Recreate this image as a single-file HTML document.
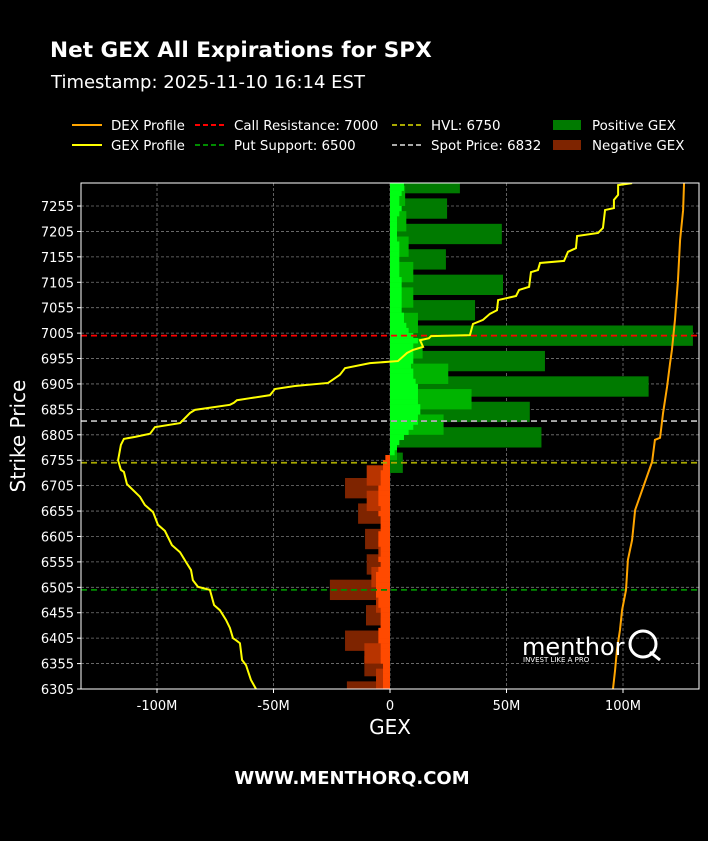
<!DOCTYPE html>
<html><head><meta charset="utf-8"><style>
body{margin:0;background:#000;width:708px;height:841px;overflow:hidden;font-family:"DejaVu Sans","Liberation Sans",sans-serif;color:#fff}
svg{position:absolute;left:0;top:0}
</style></head><body>
<svg id="c" width="708" height="841" xmlns="http://www.w3.org/2000/svg" font-family="DejaVu Sans, Liberation Sans, sans-serif">
<text x="50" y="57" font-size="21.6" font-weight="bold" fill="#fff">Net GEX All Expirations for SPX</text>
<text x="51" y="88" font-size="18" fill="#fff">Timestamp: 2025-11-10 16:14 EST</text>
<text x="352" y="784" font-size="18" font-weight="bold" fill="#fff" text-anchor="middle">WWW.MENTHORQ.COM</text>
<text x="390" y="734" font-size="20" fill="#fff" text-anchor="middle">GEX</text>
<text transform="translate(25,436) rotate(-90)" font-size="20" fill="#fff" text-anchor="middle">Strike Price</text>
<g id="legend" font-size="13.4" fill="#fff"></g>
<g id="plot"></g>
</svg>
<script>
const yTicks=[7255,7205,7155,7105,7055,7005,6955,6905,6855,6805,6755,6705,6655,6605,6555,6505,6455,6405,6355,6305];
const xTicks=[-100,-50,0,50,100];
const xTickLabels=["-100M","-50M","0","50M","100M"];
const darkStrikes=[7300,7250,7200,7150,7100,7050,7000,6950,6900,6850,6800,6750,6700,6650,6600,6550,6500,6450,6400,6350,6300];
const darkValues=[30,24.5,48,24,48.5,36.5,130,66.5,111,60,65,5.5,-19.3,-13.7,-10.7,-10,-25.8,-10.3,-19.3,-11,-18.5];
const midStrikes=[7275,7225,7175,7125,7075,7025,6975,6925,6875,6825,6775,6725,6675,6625,6575,6525,6475,6425,6375,6325];
const midValues=[6.5,7,8,10,10,12,14,25,35,23,3,-10,-10,-4,-5,-8,-6,-4,-11,-6];
const brightStrikes=[7300,7290,7280,7270,7260,7250,7240,7230,7220,7210,7200,7190,7180,7170,7160,7150,7140,7130,7120,7110,7100,7090,7080,7070,7060,7050,7040,7030,7020,7010,7000,6990,6980,6970,6960,6950,6940,6930,6920,6910,6900,6890,6880,6870,6860,6850,6840,6830,6820,6810,6800,6790,6780,6770,6760,6750,6740,6730,6720,6710,6700,6690,6680,6670,6660,6650,6640,6630,6620,6610,6600,6590,6580,6570,6560,6550,6540,6530,6520,6510,6500,6490,6480,6470,6460,6450,6440,6430,6420,6410,6400,6390,6380,6370,6360,6350,6340,6330,6320,6310];
const brightValues=[6,6,5,4,4,5,4,3,3,3,3,3,4,4,4,4,4,4,4,5,5,5,5,5,5,5,6,6,7,8,10,12,10,10,10,10,9,10,10,11,12,12,12,12,13,13,12,12,10,8,6,4,3,2,-2,-3,-3,-4,-4,-4,-5,-5,-5,-5,-4,-5,-4,-4,-4,-5,-5,-5,-4,-4,-5,-4,-5,-6,-6,-6,-6,-6,-5,-5,-4,-4,-4,-4,-5,-5,-5,-4,-4,-4,-4,-3,-3,-3,-3,-3];
const gexStrikes=[7300,7296,7277,7267,7251,7247,7212,7202,7196,7172,7165,7147,7143,7129,7125,7096,7090,7078,7070,7050,7043,7031,7023,7001,6999,6995,6991,6978,6972,6966,6950,6946,6936,6923,6907,6901,6895,6883,6877,6873,6868,6864,6854,6848,6828,6820,6807,6801,6797,6785,6755,6736,6732,6708,6683,6667,6653,6628,6616,6588,6574,6555,6539,6519,6506,6500,6470,6460,6441,6425,6405,6401,6395,6362,6352,6323,6305];
const gexValues=[103.9,97.9,97.9,96.1,96.1,92.3,91.4,89.3,80.3,79.8,76.4,74.7,64.4,63.5,60.5,59.7,55.4,54.1,46.4,45.9,42.9,39.9,35.6,34.3,17.6,16.7,12.9,14.2,9.9,7.3,3.4,-8.6,-19.3,-21.5,-26.6,-40.8,-49.4,-51.5,-60.1,-65.7,-67,-68.7,-83.7,-85.8,-90.1,-100.9,-103,-109.4,-114.2,-115.5,-116.7,-115.5,-114.2,-112.9,-107.3,-105.2,-101.7,-99.6,-96.6,-93.6,-90.1,-87.6,-85.4,-84.6,-82.4,-77.3,-75.5,-73,-70.4,-68.7,-67.4,-66.1,-64.4,-63.5,-61.8,-59.7,-57.5];
const dexStrikes=[7300,7247,7188,7110,7031,6972,6946,6899,6848,6799,6795,6752,6696,6657,6598,6559,6500,6460,6421,6382,6342,6305];
const dexValues=[126.2,125.8,124.5,123.6,122.3,121,120.2,118.9,117.2,115.9,113.7,112.5,108.2,105.2,103.9,102.1,101.3,99.6,98.7,97.4,96.6,95.7];
const levelNames=["call-resistance-line","put-support-line","hvl-line","spot-price-line"];
const levelValues=[7000,6500,6750,6832];

const L=81,R=699,T=183,B=689;
const X=v=>390+v*2.33;
const Y=s=>B-(s-6305)*0.5084;
const NS="http://www.w3.org/2000/svg";
const plot=document.getElementById('plot');
function mk(tag,attrs,parent){const e=document.createElementNS(NS,tag);for(const k in attrs)e.setAttribute(k,attrs[k]);(parent||plot).appendChild(e);return e;}
const clip=mk('clipPath',{id:'pc'});mk('rect',{x:L,y:T,width:R-L,height:B-T},clip);
yTicks.forEach((t,i)=>{const y=Y(t);
 const g=mk('line',{x1:L,x2:R,y1:y,y2:y,stroke:'#777','stroke-width':0.8,'stroke-dasharray':'3,2'});
 
 
 mk('line',{x1:L-4,x2:L,y1:y,y2:y,stroke:'#fff'});
 const tx=mk('text',{x:L-7,y:y+5,'text-anchor':'end','font-size':13,fill:'#fff'});tx.textContent=t;
 
 
});
xTicks.forEach((t,i)=>{const x=X(t);
 const g=mk('line',{x1:x,x2:x,y1:T,y2:B,stroke:'#777','stroke-width':0.8,'stroke-dasharray':'3,2'});
 
 
 mk('line',{x1:x,x2:x,y1:B,y2:B+4,stroke:'#fff'});
 const tx=mk('text',{x:x,y:B+21,'text-anchor':'middle','font-size':13,fill:'#fff'});tx.textContent=xTickLabels[i];
 
 
});
const bars=mk('g',{'clip-path':'url(#pc)'});
function drawBars(strikes,vals,h,pos,neg,name){strikes.forEach((s,i)=>{const v=vals[i];const x0=X(0),x1=X(v);
 const r=mk('rect',{x:Math.min(x0,x1),y:Y(s+h/2),width:Math.abs(x1-x0),height:h*0.5084,fill:v>=0?pos:neg},bars);
 
 });}
drawBars(darkStrikes,darkValues,40,'#007a00','#7e2400','gex-bar');
drawBars(midStrikes,midValues,40,'#00b400','#b83400','gex-bar-mid');
drawBars(brightStrikes,brightValues,10.5,'#00ff14','#ff4a00','gex-bar-near');
const lvlColors=['#ff0000','#008c00','#a8a800','#aaaaaa'];
levelValues.forEach((v,i)=>{const l=mk('line',{x1:L,x2:R,y1:Y(v),y2:Y(v),stroke:lvlColors[i],'stroke-width':1.8,'stroke-dasharray':'6,4'});
 
 });
function line(ss,vs,color,name){const p=mk('polyline',{points:ss.map((s,i)=>X(vs[i])+','+Y(s)).join(' '),fill:'none',stroke:color,'stroke-width':2,'clip-path':'url(#pc)'});
 
 }
line(dexStrikes,dexValues,'#ffa500','dex-profile-line');
line(gexStrikes,gexValues,'#ffff00','gex-profile-line');
const fr=mk('rect',{x:L,y:T,width:R-L,height:B-T,fill:'none',stroke:'#fff','stroke-width':1});


const wm=mk('g',{});


const wt=mk('text',{x:522,y:655,'font-size':24,fill:'#fff'},wm);wt.textContent='menthor';
const ws=mk('text',{x:523,y:662,'font-size':7,fill:'#fff'},wm);ws.textContent='INVEST LIKE A PRO';
mk('circle',{cx:643,cy:644,r:13,fill:'none',stroke:'#fff','stroke-width':3},wm);
mk('line',{x1:650,y1:652,x2:660,y2:660,stroke:'#fff','stroke-width':3},wm);
const lg=document.getElementById('legend');
const items=[
 ['line','#ffa500','',72,125,'DEX Profile','legend-dex'],
 ['line','#ffff00','',72,145,'GEX Profile','legend-gex'],
 ['line','#ff0000','5,3',195,125,'Call Resistance: 7000','legend-call-resistance'],
 ['line','#008c00','5,3',195,145,'Put Support: 6500','legend-put-support'],
 ['line','#a8a800','5,3',392,125,'HVL: 6750','legend-hvl'],
 ['line','#aaaaaa','5,3',392,145,'Spot Price: 6832','legend-spot-price'],
 ['patch','#007a00','',553,125,'Positive GEX','legend-positive-gex'],
 ['patch','#7e2400','',553,145,'Negative GEX','legend-negative-gex']];
items.forEach(it=>{const g=mk('g',{},lg);
 
 
 if(it[0]==='line')mk('line',{x1:it[3],x2:it[3]+30,y1:it[4],y2:it[4],stroke:it[1],'stroke-width':2,'stroke-dasharray':it[2]},g);
 else mk('rect',{x:it[3],y:it[4]-5,width:28,height:10,fill:it[1]},g);
 const t=mk('text',{x:it[3]+39,y:it[4]+5},g);t.textContent=it[5];});
</script>
</body></html>
